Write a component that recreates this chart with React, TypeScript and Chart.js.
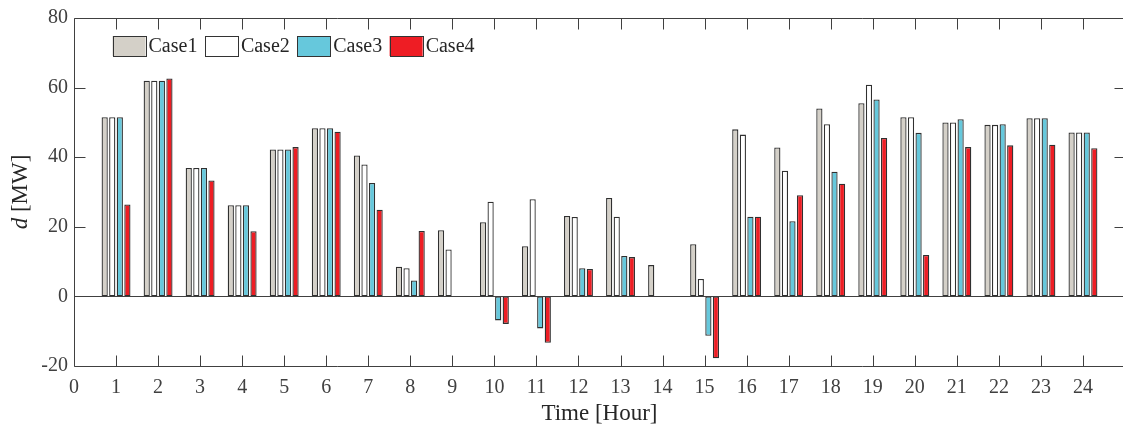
import React, { useEffect, useRef } from "react";
import { Chart, registerables } from "chart.js";

Chart.register(...registerables);

const hours = [1, 2, 3, 4, 5, 6, 7, 8, 9, 10, 11, 12, 13, 14, 15, 16, 17, 18, 19, 20, 21, 22, 23, 24];
const case1 = [51.5, 62.0, 36.9, 26.2, 42.2, 48.3, 40.5, 8.5, 19.0, 21.3, 14.4, 23.1, 28.3, 9.0, 15.0, 48.0, 42.8, 54.0, 55.5, 51.5, 50.0, 49.3, 51.2, 47.1];
const case2 = [51.5, 62.0, 36.9, 26.2, 42.2, 48.3, 37.9, 8.1, 13.5, 27.2, 27.9, 22.8, 22.9, 0, 5.0, 46.5, 36.1, 49.5, 60.8, 51.5, 50.0, 49.3, 51.2, 47.1];
const case3 = [51.5, 62.0, 36.9, 26.2, 42.2, 48.3, 32.6, 4.6, 0, -6.9, -9.2, 8.1, 11.6, 0, -11.3, 22.9, 21.6, 35.8, 56.6, 47.0, 50.9, 49.5, 51.2, 47.1];
const case4 = [26.4, 62.6, 33.3, 18.7, 42.9, 47.3, 24.9, 18.8, 0, -7.9, -13.3, 7.9, 11.3, 0, -17.8, 22.9, 29.1, 32.4, 45.5, 11.9, 42.9, 43.4, 43.6, 42.6];

const seriesNames = ["Case1", "Case2", "Case3", "Case4"];
const seriesColors = ["#d4d0c8", "#ffffff", "#66c8dc", "#ee1d24"];
const yTickValues = [-20, 0, 20, 40, 60, 80];
const xTickMax = 24;

const FONT = "'Liberation Serif', 'DejaVu Serif', serif";
const TICK_COLOR = "#404040";
const TEXT_COLOR = "#262626";
const AXIS_COLOR = "#404040";

const framePlugin = {
  id: "framePlugin",
  afterDatasetsDraw(chart: any) {
    const { ctx, chartArea } = chart;
    const xs = chart.scales.x;
    const ys = chart.scales.y;
    const L = Math.round(chartArea.left) + 0.5;
    const R = Math.round(chartArea.right) + 0.5;
    const T = Math.round(chartArea.top) + 0.5;
    const B = Math.round(chartArea.bottom) + 0.5;
    const tl = 11;
    ctx.save();
    ctx.strokeStyle = AXIS_COLOR;
    ctx.lineWidth = 1;
    const y0 = Math.round(ys.getPixelForValue(0)) + 0.5;
    ctx.beginPath();
    ctx.moveTo(L, y0);
    ctx.lineTo(R, y0);
    ctx.stroke();
    ctx.beginPath();
    ctx.rect(L, T, R - L, B - T);
    ctx.stroke();
    ctx.beginPath();
    for (let h = 1; h <= xTickMax; h++) {
      const px = Math.round(xs.getPixelForValue(h)) + 0.5;
      ctx.moveTo(px, T);
      ctx.lineTo(px, T + tl);
      ctx.moveTo(px, B);
      ctx.lineTo(px, B - tl);
    }
    for (const v of yTickValues) {
      const py = Math.round(ys.getPixelForValue(v)) + 0.5;
      ctx.moveTo(L, py);
      ctx.lineTo(L + tl, py);
      ctx.moveTo(R, py);
      ctx.lineTo(R - tl, py);
    }
    ctx.stroke();

    let lx = 112.5;
    const ly = 36;
    const bw = 33;
    const bh = 20;
    ctx.font = `20px ${FONT}`;
    ctx.textBaseline = "middle";
    ctx.textAlign = "left";
    for (let i = 0; i < seriesNames.length; i++) {
      ctx.fillStyle = seriesColors[i];
      ctx.fillRect(lx, ly, bw, bh);
      ctx.strokeStyle = "#333333";
      ctx.strokeRect(Math.round(lx) + 0.5, ly + 0.5, bw, bh);
      ctx.fillStyle = TEXT_COLOR;
      const tx = lx + bw + 3;
      ctx.fillText(seriesNames[i], tx, ly + bh / 2 + 1);
      lx = tx + ctx.measureText(seriesNames[i]).width + 7.5;
    }

    ctx.save();
    const cy = (chartArea.top + chartArea.bottom) / 2;
    ctx.translate(21, cy);
    ctx.rotate(-Math.PI / 2);
    ctx.fillStyle = TEXT_COLOR;
    ctx.textBaseline = "middle";
    const fItalic = `italic 23px ${FONT}`;
    const fNormal = `23px ${FONT}`;
    ctx.font = fItalic;
    const wD = ctx.measureText("d").width;
    ctx.font = fNormal;
    const rest = " [MW]";
    const wR = ctx.measureText(rest).width;
    const start = -(wD + wR) / 2;
    ctx.font = fItalic;
    ctx.fillText("d", start, 0);
    ctx.font = fNormal;
    ctx.fillText(rest, start + wD, 0);
    ctx.restore();

    ctx.restore();
  },
};

export default function App() {
  const canvasRef = useRef<HTMLCanvasElement | null>(null);

  useEffect(() => {
    const canvas = canvasRef.current;
    if (!canvas) return;
    const allSeries = [case1, case2, case3, case4];
    const chart = new Chart(canvas, {
      type: "bar",
      data: {
        datasets: allSeries.map((arr, i) => ({
          label: seriesNames[i],
          data: hours.map((h, j) => ({ x: h, y: arr[j] })),
          backgroundColor: seriesColors[i],
          borderColor: "#303030",
          borderWidth: 1.3,
          borderSkipped: false,
          categoryPercentage: 0.72,
          barPercentage: 0.82,
        })),
      },
      options: {
        animation: false,
        responsive: false,
        devicePixelRatio: 1,
        layout: { padding: { top: 14, left: 0, right: 3, bottom: 0 } },
        plugins: {
          legend: { display: false },
          tooltip: { enabled: false },
        },
        scales: {
          x: {
            type: "linear",
            min: 0,
            max: 25,
            offset: false,
            grid: { display: false, offset: false, drawTicks: false },
            border: { display: false },
            ticks: {
              stepSize: 1,
              autoSkip: false,
              maxRotation: 0,
              padding: 10,
              color: TICK_COLOR,
              font: { family: FONT, size: 20 },
              callback: (v: any) => (Number(v) <= xTickMax ? String(v) : ""),
            },
            title: {
              display: true,
              text: "Time [Hour]",
              color: TEXT_COLOR,
              font: { family: FONT, size: 23 },
              padding: 0,
            },
            afterFit: (s: any) => {
              s.height = 62;
            },
          },
          y: {
            min: -20,
            max: 80,
            grid: { display: false, drawTicks: false },
            border: { display: false },
            ticks: {
              stepSize: 20,
              padding: 6,
              color: TICK_COLOR,
              font: { family: FONT, size: 20 },
            },
            afterFit: (s: any) => {
              s.width = 74;
            },
          },
        },
      },
      plugins: [framePlugin],
    } as any);
    return () => chart.destroy();
  }, []);

  return (
    <div
      style={{
        position: "fixed",
        left: 0,
        top: 0,
        width: 1123,
        height: 428,
        overflow: "hidden",
        background: "#ffffff",
      }}
    >
      <canvas
        ref={canvasRef}
        width={1135}
        height={428}
        style={{ display: "block", width: 1135, height: 428 }}
      />
    </div>
  );
}
